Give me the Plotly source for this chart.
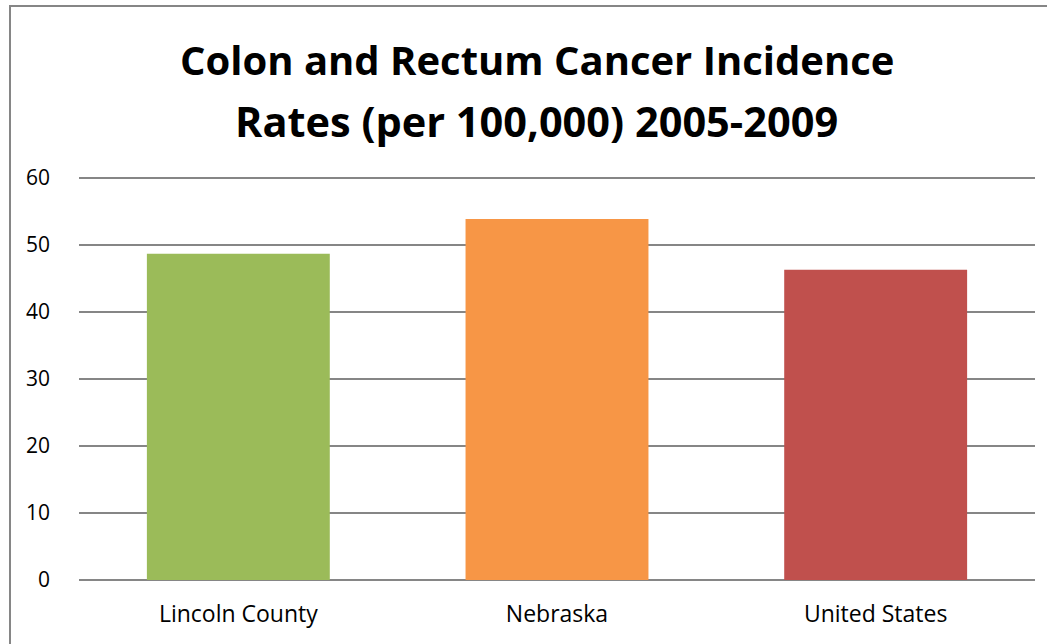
import plotly.graph_objects as go

# Incidence rates per 100,000, 2005-2009
regions = ["Lincoln County", "Nebraska", "United States"]
rates = [48.7, 53.9, 46.3]
bar_colors = ["#9BBB59", "#F79646", "#C0504D"]
y_ticks = [0, 10, 20, 30, 40, 50, 60]
title_lines = ["Colon and Rectum Cancer Incidence", "Rates (per 100,000) 2005-2009"]

W, H = 1047, 644
plot_left, plot_right = 79, 1035
plot_top, plot_bottom = 176, 580
y_top = 60.3  # a little headroom so the 60 gridline is drawn

fig = go.Figure(
    go.Bar(
        x=regions,
        y=rates,
        marker=dict(color=bar_colors, line=dict(width=0)),
        hoverinfo="x+y",
    )
)

pw = plot_right - plot_left
ph = plot_bottom - plot_top

# outer chart border (right and bottom edges run past the page)
fig.add_shape(
    type="rect",
    xref="paper", yref="paper",
    x0=(10 - plot_left) / pw, x1=(W + 20 - plot_left) / pw,
    y0=(plot_bottom - (H + 20)) / ph, y1=(plot_bottom - 6) / ph,
    line=dict(color="#868686", width=2),
    fillcolor="rgba(0,0,0,0)",
    layer="below",
)

# chart title, one annotation per line
for line, cy, size in zip(title_lines, [60, 121], [40, 41.5]):
    fig.add_annotation(
        text=f"<b>{line}</b>",
        xref="paper", yref="paper",
        x=(536.5 - plot_left) / pw,
        y=(plot_bottom - cy) / ph,
        xanchor="center", yanchor="middle",
        showarrow=False,
        font=dict(family="Open Sans", size=size, color="black"),
    )

fig.update_layout(
    width=W,
    height=H,
    margin=dict(l=plot_left, r=W - plot_right, t=plot_top, b=H - plot_bottom, pad=0),
    paper_bgcolor="white",
    plot_bgcolor="white",
    showlegend=False,
    bargap=0.426,
    font=dict(family="Open Sans", color="black"),
    xaxis=dict(
        showgrid=False,
        showline=False,
        zeroline=False,
        ticks="",
        tickfont=dict(size=23, color="black"),
        ticklabelstandoff=18,
    ),
    yaxis=dict(
        range=[0, y_top],
        tickvals=y_ticks,
        showgrid=True,
        gridcolor="#868686",
        gridwidth=1.5,
        zeroline=True,
        zerolinecolor="#868686",
        zerolinewidth=2,
        showline=False,
        ticks="",
        tickfont=dict(size=21, color="black"),
        ticklabelstandoff=28,
    ),
)

fig.write_html("out.html")
